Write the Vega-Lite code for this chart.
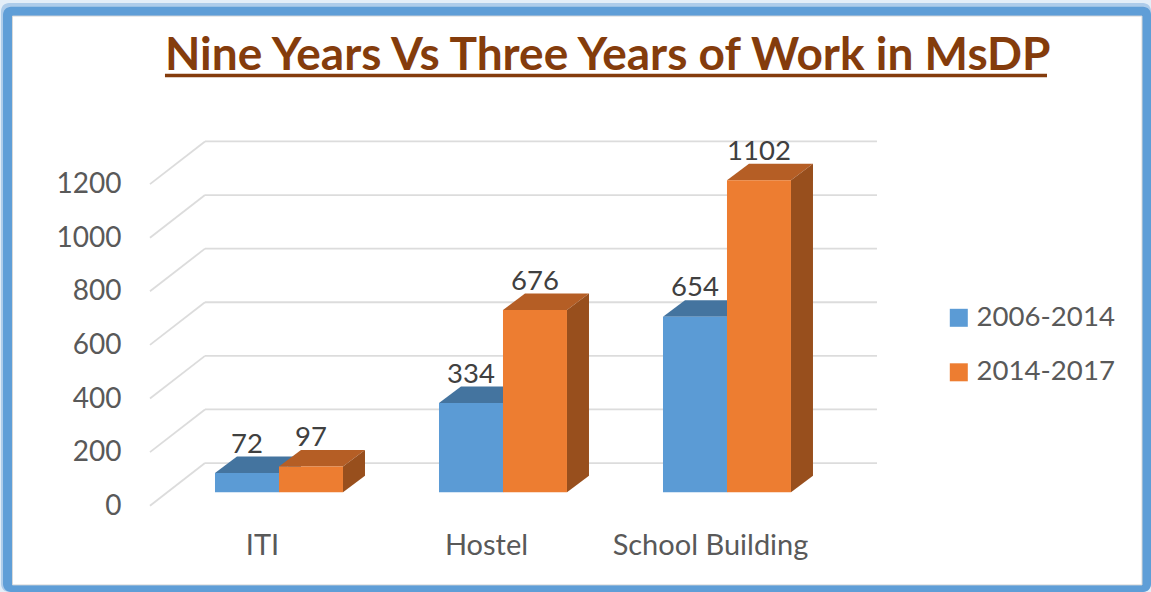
{
"$schema":"https://vega.github.io/schema/vega-lite/v6.json",
"autosize":{"type":"none"},"padding":0,"width":1151,"height":592,"background":"#ffffff",
"title":{"text":"Nine Years Vs Three Years of Work in MsDP","anchor":"start","frame":"group","dx":165,"dy":116,"offset":0,"baseline":"alphabetic","font":"Lato","fontSize":46,"fontWeight":"bold","color":"#843c0c"},
"config":{"view":{"stroke":null},"font":"Lato"},
"resolve":{"axis":{"x":"independent","y":"independent"}},
"data":{"values":[
{"category":"ITI","series":"2006-2014","value":72,"drawn":72},
{"category":"ITI","series":"2014-2017","value":97,"drawn":96},
{"category":"Hostel","series":"2006-2014","value":334,"drawn":333},
{"category":"Hostel","series":"2014-2017","value":676,"drawn":680},
{"category":"School Building","series":"2006-2014","value":654,"drawn":655},
{"category":"School Building","series":"2014-2017","value":1102,"drawn":1164}
]},
"transform":[
{"calculate":"indexof(['ITI','Hostel','School Building'],datum.category)","as":"idx"},
{"calculate":"datum.idx+(datum.series==='2006-2014'?-0.2857:0)","as":"L"},
{"calculate":"datum.L+0.2857","as":"R"},
{"calculate":"datum.L+0.1429","as":"C"}
],
"layer":[
{"data":{"values":[{}]},"mark":{"type":"rect","fill":"#e3eef8"},"encoding":{
"x":{"datum":-1.2455,"type":"quantitative","scale":{"domain":[-1.2455,3.8929]},"axis":null},"x2":{"datum":3.8929},
"y":{"datum":1837,"type":"quantitative","scale":{"domain":[-372,1837]},"axis":null},"y2":{"datum":-372}}},
{"data":{"values":[{}]},"mark":{"type":"rect","fill":"#adcceA","cornerRadius":8},"encoding":{
"x":{"datum":-1.241,"type":"quantitative","scale":{"domain":[-1.2455,3.8929]},"axis":null},"x2":{"datum":3.8929},
"y":{"datum":1826,"type":"quantitative","scale":{"domain":[-372,1837]},"axis":null},"y2":{"datum":-372}}},
{"data":{"values":[{}]},"mark":{"type":"rect","fill":"#5f9ed7","cornerRadius":8},"encoding":{
"x":{"datum":-1.232,"type":"quantitative","scale":{"domain":[-1.2455,3.8929]},"axis":null},"x2":{"datum":3.8929},
"y":{"datum":1812,"type":"quantitative","scale":{"domain":[-372,1837]},"axis":null},"y2":{"datum":-372}}},
{"data":{"values":[{}]},"mark":{"type":"rect","fill":"#ffffff","stroke":"#d9d9d9","strokeWidth":1},"encoding":{
"x":{"datum":-1.1897,"type":"quantitative","scale":{"domain":[-1.2455,3.8929]},"axis":null},"x2":{"datum":3.8527},
"y":{"datum":1777,"type":"quantitative","scale":{"domain":[-372,1837]},"axis":null},"y2":{"datum":-345.5}}},
{"data":{"values":[{"tick":0},{"tick":200},{"tick":400},{"tick":600},{"tick":800},{"tick":1000},{"tick":1200}]},
"transform":[{"calculate":"datum.tick-50","as":"front"},{"calculate":"datum.tick+109.2","as":"back"},{"calculate":"-0.5759","as":"xf"},{"calculate":"-0.3304","as":"xb"},{"calculate":"2.6696","as":"xe"}],
"layer":[
{"mark":{"type":"rule","stroke":"#dcdcdc","strokeWidth":1.8},"encoding":{
"x":{"field":"xf","type":"quantitative","scale":{"domain":[-1.2455,3.8929]},"axis":null},"x2":{"field":"xb"},
"y":{"field":"front","type":"quantitative","scale":{"domain":[-372,1837]},"axis":null},"y2":{"field":"back"}}},
{"mark":{"type":"rule","stroke":"#dcdcdc","strokeWidth":1.8},"encoding":{
"x":{"field":"xb","type":"quantitative","scale":{"domain":[-1.2455,3.8929]},"axis":null},"x2":{"field":"xe"},
"y":{"field":"back","type":"quantitative","scale":{"domain":[-372,1837]},"axis":null}}}
]},
{"transform":[{"filter":"datum.series==='2006-2014'"},{"calculate":"[0,1,2,3]","as":"k"},{"flatten":["k"]},
{"calculate":"[datum.L,datum.L+0.0982,datum.R,datum.R+0.0982][datum.k]","as":"px"},
{"calculate":"datum.k==3?datum.drawn+61.6:datum.drawn","as":"ylo"},
{"calculate":"datum.k==0?datum.drawn:datum.drawn+61.6","as":"yhi"}],
"mark":{"type":"area","fill":"#44749f"},"encoding":{"detail":{"field":"category"},
"x":{"field":"px","type":"quantitative","scale":{"domain":[-1.2455,3.8929]},"axis":null},
"y":{"field":"ylo","type":"quantitative","scale":{"domain":[-372,1837]},"axis":null},"y2":{"field":"yhi"}}},
{"transform":[{"filter":"datum.series==='2006-2014'"},{"calculate":"[0,1]","as":"k"},{"flatten":["k"]},
{"calculate":"datum.R+datum.k*0.0982","as":"px"},
{"calculate":"datum.k*61.6","as":"ylo"},
{"calculate":"datum.drawn+datum.k*61.6","as":"yhi"}],
"mark":{"type":"area","fill":"#2f6a9e"},"encoding":{"detail":{"field":"category"},
"x":{"field":"px","type":"quantitative","scale":{"domain":[-1.2455,3.8929]},"axis":null},
"y":{"field":"ylo","type":"quantitative","scale":{"domain":[-372,1837]},"axis":null},"y2":{"field":"yhi"}}},
{"transform":[{"filter":"datum.series==='2014-2017'"},{"calculate":"[0,1,2,3]","as":"k"},{"flatten":["k"]},
{"calculate":"[datum.L,datum.L+0.0982,datum.R,datum.R+0.0982][datum.k]","as":"px"},
{"calculate":"datum.k==3?datum.drawn+61.6:datum.drawn","as":"ylo"},
{"calculate":"datum.k==0?datum.drawn:datum.drawn+61.6","as":"yhi"}],
"mark":{"type":"area","fill":"#b55e25"},"encoding":{"detail":{"field":"category"},
"x":{"field":"px","type":"quantitative","scale":{"domain":[-1.2455,3.8929]},"axis":null},
"y":{"field":"ylo","type":"quantitative","scale":{"domain":[-372,1837]},"axis":null},"y2":{"field":"yhi"}}},
{"transform":[{"filter":"datum.series==='2014-2017'"},{"calculate":"[0,1]","as":"k"},{"flatten":["k"]},
{"calculate":"datum.R+datum.k*0.0982","as":"px"},
{"calculate":"datum.k*61.6","as":"ylo"},
{"calculate":"datum.drawn+datum.k*61.6","as":"yhi"}],
"mark":{"type":"area","fill":"#984f1d"},"encoding":{"detail":{"field":"category"},
"x":{"field":"px","type":"quantitative","scale":{"domain":[-1.2455,3.8929]},"axis":null},
"y":{"field":"ylo","type":"quantitative","scale":{"domain":[-372,1837]},"axis":null},"y2":{"field":"yhi"}}},
{"mark":{"type":"rect"},"encoding":{
"x":{"field":"L","type":"quantitative","scale":{"domain":[-1.2455,3.8929]},
"axis":{"orient":"bottom","offset":-47,"zindex":1,"values":[0,1,2],"labelExpr":"datum.value==0?'ITI':datum.value==1?'Hostel':'School Building'","title":null,"grid":false,"domain":false,"ticks":false,"labelPadding":0,"labelBaseline":"middle","labelOffset":-17,"labelLimit":400,"labelFont":"Lato","labelFontSize":29,"labelColor":"#595959"}},
"x2":{"field":"R"},
"y":{"field":"drawn","type":"quantitative","scale":{"domain":[-372,1837]},
"axis":{"orient":"left","offset":-121,"zindex":1,"values":[0,200,400,600,800,1000,1200],"title":null,"grid":false,"domain":false,"ticks":false,"labelPadding":0,"labelOffset":14,"format":"d","labelFont":"Lato","labelFontSize":28,"labelColor":"#595959"}},
"y2":{"datum":0},
"color":{"field":"series","type":"nominal","scale":{"domain":["2006-2014","2014-2017"],"range":["#5b9bd5","#ed7d31"]},
"legend":{"orient":"none","legendX":945,"legendY":304,"title":null,"symbolType":"square","symbolSize":324,"symbolStrokeWidth":0,"labelFont":"Lato","labelFontSize":27.6,"labelColor":"#595959","rowPadding":25.5,"labelOffset":4}}}},
{"transform":[{"calculate":"datum.drawn+61.6","as":"labelY"}],
"mark":{"type":"text","align":"center","baseline":"alphabetic","dy":-4,"font":"Lato","fontSize":27.5,"color":"#404040"},"encoding":{
"x":{"field":"C","type":"quantitative","scale":{"domain":[-1.2455,3.8929]},"axis":null},
"y":{"field":"labelY","type":"quantitative","scale":{"domain":[-372,1837]},"axis":null},
"text":{"field":"value","type":"quantitative"}}},
{"data":{"values":[{}]},"mark":{"type":"rule","stroke":"#843c0c","strokeWidth":3.5},"encoding":{
"x":{"datum":-0.509,"type":"quantitative","scale":{"domain":[-1.2455,3.8929]},"axis":null},"x2":{"datum":3.4286},
"y":{"datum":1555,"type":"quantitative","scale":{"domain":[-372,1837]},"axis":null}}}
]
}
